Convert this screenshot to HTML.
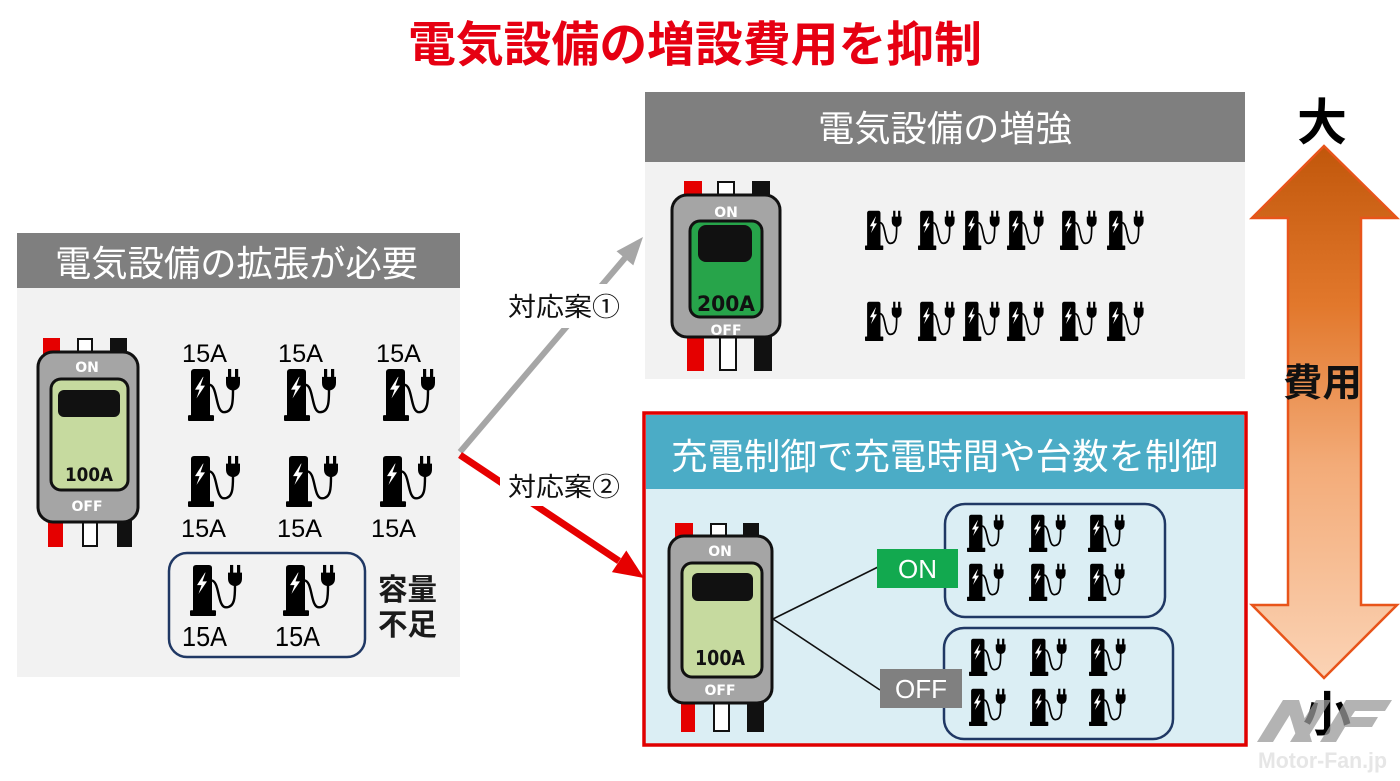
<!DOCTYPE html>
<html><head><meta charset="utf-8">
<style>
html,body{margin:0;padding:0;background:#fff;}
svg{display:block;}
.jp{font-family:"Liberation Sans","Noto Sans CJK JP",sans-serif;}
.lat{font-family:"Liberation Sans",sans-serif;}
.dv{font-family:"DejaVu Sans","Liberation Sans",sans-serif;font-weight:bold;}
</style></head>
<body>
<svg width="1400" height="781" viewBox="0 0 1400 781" xmlns="http://www.w3.org/2000/svg">
<defs>
<symbol id="chg" viewBox="0 0 54 54" preserveAspectRatio="none">
 <rect x="3" y="1" width="19" height="50" rx="3" fill="#000"/>
 <rect x="0" y="48" width="26" height="6" rx="1" fill="#000"/>
 <polygon points="15,9 7,22 11.5,22 8.5,31 17,18 12.5,18 15.5,9" fill="#fff"/>
 <path d="M21 17 C30 17 27 45 36 45 C45 45 45 34 45 22" fill="none" stroke="#000" stroke-width="2.4"/>
 <path d="M38 9 H52 V15 Q52 22 45 23 Q38 22 38 15 Z" fill="#000"/>
 <rect x="40" y="1" width="3.2" height="9" fill="#000"/>
 <rect x="47" y="1" width="3.2" height="9" fill="#000"/>
</symbol>
<linearGradient id="ag" x1="0" y1="0" x2="0" y2="1">
 <stop offset="0" stop-color="#c1570b"/>
 <stop offset="0.3" stop-color="#e2782c"/>
 <stop offset="0.6" stop-color="#f3ab78"/>
 <stop offset="1" stop-color="#fbd3b5"/>
</linearGradient>
</defs>

<!-- Title -->
<text class="jp" x="408" y="61" font-size="48" font-weight="700" fill="#e60012" textLength="574" lengthAdjust="spacingAndGlyphs">電気設備の増設費用を抑制</text>

<!-- LEFT PANEL -->
<rect x="17" y="233" width="443" height="55" fill="#7f7f7f"/>
<rect x="17" y="288" width="443" height="389" fill="#f2f2f2"/>
<text class="jp" x="55" y="276" font-size="36" fill="#fff" textLength="363" lengthAdjust="spacingAndGlyphs">電気設備の拡張が必要</text>

<!-- left breaker -->
<rect x="43" y="338" width="17" height="18" fill="#e50000"/>
<rect x="78" y="339" width="14" height="17" fill="#fff" stroke="#111" stroke-width="2"/>
<rect x="110" y="338" width="17" height="18" fill="#111"/>
<rect x="48" y="515" width="15" height="32" fill="#e50000"/>
<rect x="83" y="515" width="14" height="31" fill="#fff" stroke="#111" stroke-width="2"/>
<rect x="117" y="515" width="15" height="32" fill="#111"/>
<rect x="38" y="352" width="100" height="170" rx="15" fill="#a5a5a5" stroke="#111" stroke-width="3"/>
<rect x="51" y="379" width="77" height="111" rx="10" fill="#c6da9f" stroke="#111" stroke-width="3"/>
<rect x="58" y="390" width="62" height="27" rx="6" fill="#111"/>
<text class="dv" x="87" y="372" font-size="14" fill="#fff" text-anchor="middle">ON</text>
<text class="dv" x="65" y="481" font-size="19" fill="#111" textLength="48" lengthAdjust="spacingAndGlyphs">100A</text>
<text class="dv" x="87" y="511" font-size="14" fill="#fff" text-anchor="middle">OFF</text>

<!-- left chargers -->
<text class="lat" x="182" y="362" font-size="25" fill="#000" textLength="45" lengthAdjust="spacingAndGlyphs">15A</text>
<text class="lat" x="278" y="362" font-size="25" fill="#000" textLength="45" lengthAdjust="spacingAndGlyphs">15A</text>
<text class="lat" x="376" y="362" font-size="25" fill="#000" textLength="45" lengthAdjust="spacingAndGlyphs">15A</text>
<use href="#chg" x="188" y="368" width="54" height="53"/>
<use href="#chg" x="284" y="368" width="54" height="53"/>
<use href="#chg" x="383" y="368" width="54" height="53"/>
<use href="#chg" x="188" y="455" width="54" height="52"/>
<use href="#chg" x="286" y="455" width="54" height="52"/>
<use href="#chg" x="380" y="455" width="54" height="52"/>
<text class="lat" x="181" y="537" font-size="25" fill="#000" textLength="45" lengthAdjust="spacingAndGlyphs">15A</text>
<text class="lat" x="277" y="537" font-size="25" fill="#000" textLength="45" lengthAdjust="spacingAndGlyphs">15A</text>
<text class="lat" x="371" y="537" font-size="25" fill="#000" textLength="45" lengthAdjust="spacingAndGlyphs">15A</text>

<rect x="169" y="553" width="196" height="104" rx="18" fill="none" stroke="#203864" stroke-width="2.5"/>
<use href="#chg" x="190" y="564" width="54" height="52"/>
<use href="#chg" x="283" y="564" width="54" height="52"/>
<text class="lat" x="182" y="646" font-size="28" fill="#000" textLength="45" lengthAdjust="spacingAndGlyphs">15A</text>
<text class="lat" x="275" y="646" font-size="28" fill="#000" textLength="45" lengthAdjust="spacingAndGlyphs">15A</text>
<text class="jp" x="378" y="600" font-size="30" font-weight="700" fill="#1a1a1a" textLength="59" lengthAdjust="spacingAndGlyphs">容量</text>
<text class="jp" x="378" y="635" font-size="30" font-weight="700" fill="#1a1a1a" textLength="59" lengthAdjust="spacingAndGlyphs">不足</text>

<!-- ARROWS -->
<line x1="460" y1="452" x2="625" y2="258" stroke="#a6a6a6" stroke-width="6"/>
<polygon points="643,237 633.3,265.4 616.5,251.2" fill="#a6a6a6"/>
<line x1="460" y1="455" x2="619" y2="561" stroke="#e60000" stroke-width="7"/>
<polygon points="644,578 611.9,572.1 626.3,550.5" fill="#e60000"/>
<rect x="500" y="284" width="125" height="44" fill="#fff"/>
<rect x="500" y="474" width="125" height="32" fill="#fff"/>
<text class="jp" x="508" y="316" font-size="26" fill="#111" textLength="112" lengthAdjust="spacingAndGlyphs">対応案①</text>
<text class="jp" x="508" y="496" font-size="26" fill="#111" textLength="112" lengthAdjust="spacingAndGlyphs">対応案②</text>

<!-- TOP RIGHT PANEL -->
<rect x="645" y="92" width="600" height="70" fill="#7f7f7f"/>
<rect x="645" y="162" width="600" height="217" fill="#f2f2f2"/>
<text class="jp" x="818" y="141" font-size="36" fill="#fff" textLength="254" lengthAdjust="spacingAndGlyphs">電気設備の増強</text>

<!-- top breaker -->
<rect x="684" y="181" width="18" height="17" fill="#e50000"/>
<rect x="718" y="182" width="16" height="16" fill="#fff" stroke="#111" stroke-width="2"/>
<rect x="752" y="181" width="18" height="17" fill="#111"/>
<rect x="687" y="333" width="17" height="38" fill="#e50000"/>
<rect x="720" y="333" width="16" height="37" fill="#fff" stroke="#111" stroke-width="2"/>
<rect x="754" y="333" width="18" height="38" fill="#111"/>
<rect x="672" y="195" width="108" height="142" rx="15" fill="#a5a5a5" stroke="#111" stroke-width="3"/>
<rect x="690" y="221" width="72" height="96" rx="10" fill="#27a44a" stroke="#111" stroke-width="3"/>
<rect x="698" y="225" width="54" height="37" rx="8" fill="#111"/>
<text class="dv" x="726" y="217" font-size="14" fill="#fff" text-anchor="middle">ON</text>
<text class="dv" x="697" y="311" font-size="21" fill="#111" textLength="58" lengthAdjust="spacingAndGlyphs">200A</text>
<text class="dv" x="726" y="335" font-size="14" fill="#fff" text-anchor="middle">OFF</text>

<!-- top chargers -->
<use href="#chg" x="865" y="210" width="38" height="40"/>
<use href="#chg" x="918" y="210" width="38" height="40"/>
<use href="#chg" x="963" y="210" width="38" height="40"/>
<use href="#chg" x="1007" y="210" width="38" height="40"/>
<use href="#chg" x="1060" y="210" width="38" height="40"/>
<use href="#chg" x="1107" y="210" width="38" height="40"/>
<use href="#chg" x="865" y="301" width="38" height="40"/>
<use href="#chg" x="918" y="301" width="38" height="40"/>
<use href="#chg" x="963" y="301" width="38" height="40"/>
<use href="#chg" x="1007" y="301" width="38" height="40"/>
<use href="#chg" x="1060" y="301" width="38" height="40"/>
<use href="#chg" x="1107" y="301" width="38" height="40"/>

<!-- BOTTOM RIGHT PANEL -->
<rect x="644" y="413" width="602" height="332" fill="#dbeef4" stroke="#e00000" stroke-width="3.5"/>
<rect x="646" y="415" width="598" height="74" fill="#4bacc6"/>
<text class="jp" x="671" y="469" font-size="36" fill="#fff" textLength="547" lengthAdjust="spacingAndGlyphs">充電制御で充電時間や台数を制御</text>

<!-- bottom breaker -->
<rect x="675" y="523" width="18" height="16" fill="#e50000"/>
<rect x="711" y="524" width="15" height="15" fill="#fff" stroke="#111" stroke-width="2"/>
<rect x="743" y="523" width="16" height="16" fill="#111"/>
<rect x="681" y="699" width="14" height="33" fill="#e50000"/>
<rect x="714" y="699" width="15" height="32" fill="#fff" stroke="#111" stroke-width="2"/>
<rect x="747" y="699" width="17" height="33" fill="#111"/>
<rect x="669" y="536" width="103" height="167" rx="15" fill="#a5a5a5" stroke="#111" stroke-width="3"/>
<rect x="682" y="563" width="80" height="114" rx="10" fill="#c6da9f" stroke="#111" stroke-width="3"/>
<rect x="692" y="573" width="61" height="28" rx="6" fill="#111"/>
<text class="dv" x="720" y="556" font-size="14" fill="#fff" text-anchor="middle">ON</text>
<text class="dv" x="695" y="665" font-size="20" fill="#111" textLength="50" lengthAdjust="spacingAndGlyphs">100A</text>
<text class="dv" x="720" y="695" font-size="14" fill="#fff" text-anchor="middle">OFF</text>

<line x1="773" y1="619" x2="878" y2="567" stroke="#111" stroke-width="1.6"/>
<line x1="773" y1="619" x2="880" y2="690" stroke="#111" stroke-width="1.6"/>

<rect x="945" y="504" width="220" height="113" rx="20" fill="none" stroke="#203864" stroke-width="2.5"/>
<rect x="944" y="628" width="229" height="111" rx="20" fill="none" stroke="#203864" stroke-width="2.5"/>

<rect x="877" y="549" width="81" height="39" fill="#12a94f"/>
<text class="lat" x="917.5" y="578" font-size="26" fill="#fff" text-anchor="middle">ON</text>
<rect x="880" y="669" width="82" height="39" fill="#808080"/>
<text class="lat" x="921" y="698" font-size="26" fill="#fff" text-anchor="middle">OFF</text>

<use href="#chg" x="967" y="514" width="38" height="38"/>
<use href="#chg" x="1029" y="514" width="38" height="38"/>
<use href="#chg" x="1088" y="514" width="38" height="38"/>
<use href="#chg" x="967" y="563" width="38" height="38"/>
<use href="#chg" x="1029" y="563" width="38" height="38"/>
<use href="#chg" x="1088" y="563" width="38" height="38"/>
<use href="#chg" x="969" y="638" width="38" height="38"/>
<use href="#chg" x="1030" y="638" width="38" height="38"/>
<use href="#chg" x="1089" y="638" width="38" height="38"/>
<use href="#chg" x="969" y="688" width="38" height="38"/>
<use href="#chg" x="1030" y="688" width="38" height="38"/>
<use href="#chg" x="1089" y="688" width="38" height="38"/>

<!-- BIG COST ARROW -->
<polygon points="1324,146 1397,218 1361,218 1361,605 1397,605 1324,678 1252,605 1288,605 1288,218 1252,218" fill="url(#ag)" stroke="#e8541a" stroke-width="2.5" stroke-linejoin="miter"/>
<text class="jp" x="1322" y="140" font-size="50" font-weight="700" fill="#000" text-anchor="middle">大</text>
<text class="jp" x="1283" y="396" font-size="38" font-weight="700" fill="#111" textLength="79" lengthAdjust="spacingAndGlyphs">費用</text>
<text class="jp" x="1327" y="731" font-size="48" font-weight="700" fill="#000" text-anchor="middle">小</text>

<!-- watermark -->
<g fill="#9a9a9a" opacity="0.75">
 <polygon points="1257,742 1283,700 1299,700 1273,742"/>
 <polygon points="1285,700 1299,700 1312,742 1298,742"/>
 <polygon points="1290,742 1316,700 1331,700 1305,742"/>
 <polygon points="1320,742 1346,700 1392,700 1385,711 1355,711 1351,717 1378,717 1372,727 1345,727 1336,742"/>
</g>
<text class="lat" x="1258" y="768" font-size="22" font-weight="700" fill="#e6e6e6" textLength="129" lengthAdjust="spacingAndGlyphs">Motor-Fan.jp</text>
</svg>
</body></html>
